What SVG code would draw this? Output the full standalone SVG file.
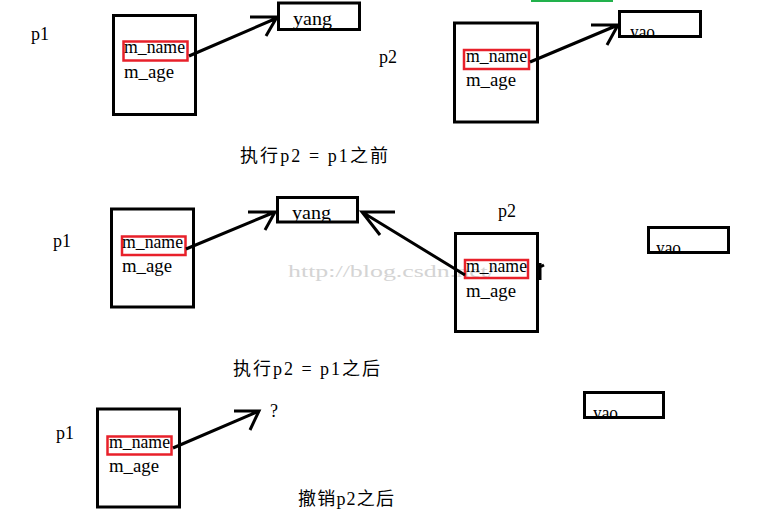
<svg xmlns="http://www.w3.org/2000/svg" width="769" height="527" viewBox="0 0 769 527">
<style>
.box{fill:none;stroke:#000;stroke-width:3}
.red{fill:none;stroke:#e8202a;stroke-width:2.5}
.ln{fill:none;stroke:#000;stroke-width:3;stroke-linecap:butt}
text{font-family:"Liberation Serif","Noto Sans CJK SC",serif;font-size:18px;fill:#000}
.wm{fill:#d4d4d4;font-size:17px}
</style>
<defs>
<clipPath id="c1"><rect x="619" y="0" width="84" height="38"/></clipPath>
<clipPath id="c2"><rect x="648" y="220" width="82" height="34"/></clipPath>
<clipPath id="c3"><rect x="584" y="385" width="81" height="34"/></clipPath>
</defs>
<rect width="769" height="527" fill="#fff"/>
<line x1="531" y1="1" x2="613" y2="1" stroke="#22b14c" stroke-width="2"/>
<text class="wm" x="288" y="277" textLength="207" lengthAdjust="spacingAndGlyphs">http://blog.csdn.net/</text>

<g id="top-p1">
<text x="31" y="40">p1</text>
<rect class="box" x="113.5" y="15.5" width="82" height="99"/>
<rect class="red" x="123.5" y="41.5" width="64" height="19"/>
<text x="124" y="53" textLength="61" lengthAdjust="spacingAndGlyphs">m_name</text>
<text x="124" y="78" textLength="50" lengthAdjust="spacingAndGlyphs">m_age</text>
</g>
<g id="top-yang">
<rect class="box" x="278.5" y="3" width="81" height="26.5"/>
<text x="293" y="25" textLength="39" lengthAdjust="spacingAndGlyphs">yang</text>
</g>
<g id="top-p2">
<text x="379" y="63">p2</text>
<rect class="box" x="454.5" y="23" width="83" height="99"/>
<rect class="red" x="464" y="50" width="65" height="19"/>
<text x="466" y="62" textLength="61" lengthAdjust="spacingAndGlyphs">m_name</text>
<text x="466" y="86" textLength="50" lengthAdjust="spacingAndGlyphs">m_age</text>
</g>
<g id="top-yao">
<text x="630" y="37.5" clip-path="url(#c1)" textLength="38" lengthAdjust="spacingAndGlyphs">yao _</text>
<rect class="box" x="619.5" y="11.5" width="81" height="25"/>
</g>
<g id="title1"><text x="240" y="162" textLength="148" lengthAdjust="spacing">执行p2 = p1之前</text></g>

<g id="mid-p1">
<text x="53" y="247">p1</text>
<rect class="box" x="111.5" y="209" width="82" height="98"/>
<rect class="red" x="122" y="236.5" width="63.5" height="18.5"/>
<text x="122" y="248" textLength="61" lengthAdjust="spacingAndGlyphs">m_name</text>
<text x="122" y="272" textLength="50" lengthAdjust="spacingAndGlyphs">m_age</text>
</g>
<g id="mid-yang">
<rect class="box" x="277.5" y="197.5" width="80" height="24.5"/>
<text x="292" y="219" textLength="39" lengthAdjust="spacingAndGlyphs">yang</text>
</g>
<g id="mid-p2">
<text x="498" y="217">p2</text>
<rect class="box" x="455.5" y="233.5" width="82" height="98"/>
<rect class="red" x="465" y="260" width="63" height="18"/>
<text x="466" y="272" textLength="61" lengthAdjust="spacingAndGlyphs">m_name</text>
<text x="466" y="297" textLength="50" lengthAdjust="spacingAndGlyphs">m_age</text>
<path class="ln" d="M540 263 L540 280 M540 267 L544 265" stroke-width="2"/>
</g>
<g id="mid-yao">
<text x="656" y="253.5" clip-path="url(#c2)" textLength="38" lengthAdjust="spacingAndGlyphs">yao _</text>
<rect class="box" x="648.5" y="227.5" width="80" height="25"/>
</g>
<g id="title2"><text x="233" y="375" textLength="147" lengthAdjust="spacing">执行p2 = p1之后</text></g>

<g id="bot-p1">
<text x="56" y="439">p1</text>
<rect class="box" x="97.5" y="409" width="82" height="98"/>
<rect class="red" x="107.5" y="436.5" width="64" height="18"/>
<text x="109" y="448" textLength="61" lengthAdjust="spacingAndGlyphs">m_name</text>
<text x="109" y="472" textLength="50" lengthAdjust="spacingAndGlyphs">m_age</text>
</g>
<g id="bot-q"><text x="270" y="417" font-size="15">?</text></g>
<g id="bot-yao">
<text x="593" y="418.5" clip-path="url(#c3)" textLength="38" lengthAdjust="spacingAndGlyphs">yao _</text>
<rect class="box" x="584.5" y="392.5" width="79" height="25"/>
</g>
<g id="title3"><text x="298" y="505" textLength="96" lengthAdjust="spacing">撤销p2之后</text></g>

<g id="connectors">
<path class="ln" d="M189 56 L277 18 M250 17 L277 17 L266 36"/>
<path class="ln" d="M530 62 L618 25 M591 25 L618 25 L607 45"/>
<path class="ln" d="M186 249 L275 212 M248 212 L275 212 L265 230"/>
<path class="ln" d="M465 275 L362 212 M395 212 L362 212 L380 235"/>
<path class="ln" d="M173 448 L259 411 M234 411 L259 411 L250 430"/>
</g>
</svg>
